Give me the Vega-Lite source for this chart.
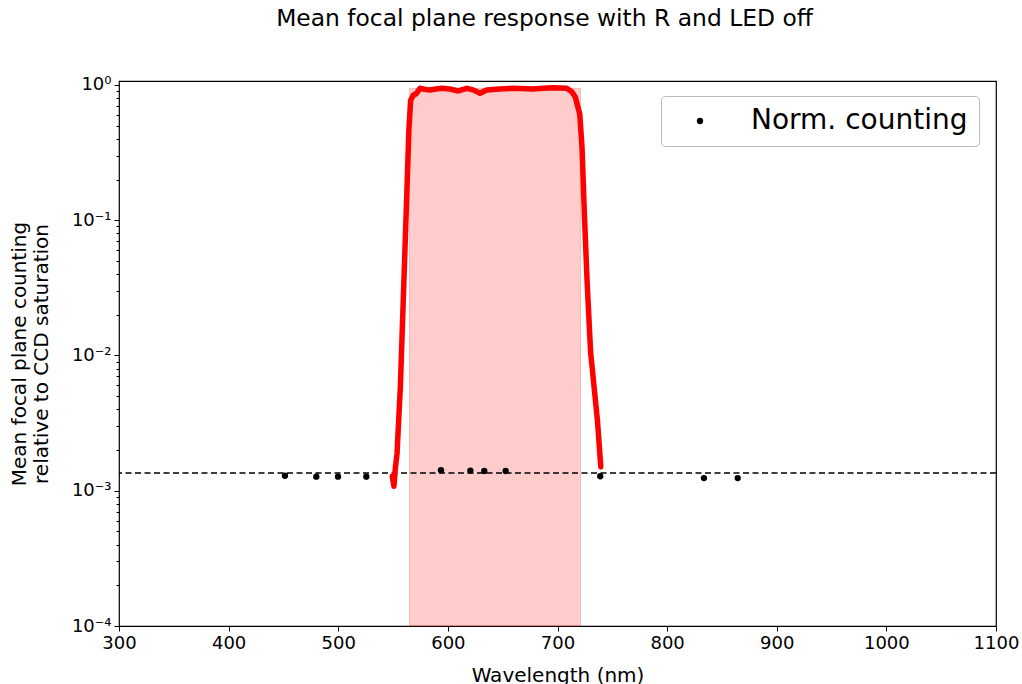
{
  "$schema": "https://vega.github.io/schema/vega-lite/v6.json",
  "width": 877,
  "height": 545,
  "autosize": {"type": "none"},
  "padding": {"left": 119, "top": 81, "right": 26, "bottom": 58},
  "background": "white",
  "config": {
    "font": "DejaVu Sans",
    "view": {"stroke": "black", "strokeWidth": 1.2},
    "axis": {
      "labelFont": "DejaVu Sans",
      "titleFont": "DejaVu Sans",
      "labelFontSize": 18,
      "titleFontSize": 20,
      "labelColor": "black",
      "titleColor": "black",
      "tickColor": "black",
      "titleFontWeight": "normal",
      "domain": false,
      "grid": false,
      "labelFlush": false
    }
  },
  "title": {
    "text": "Mean focal plane response with R and LED off",
    "font": "DejaVu Sans",
    "fontSize": 23.4,
    "fontWeight": "normal",
    "color": "black",
    "anchor": "middle",
    "dx": -13,
    "offset": 45
  },
  "datasets": {
    "band": [{"start": 565, "end": 721, "low": 0.0001, "high": 0.945}],
    "baseline": [{"level": 0.00135}],
    "response": [
      {"wavelength": 549.3, "value": 0.00128},
      {"wavelength": 550.8, "value": 0.00108},
      {"wavelength": 552.0, "value": 0.00145},
      {"wavelength": 553.6, "value": 0.00187},
      {"wavelength": 556.7, "value": 0.00595},
      {"wavelength": 559.8, "value": 0.0338},
      {"wavelength": 562.9, "value": 0.192},
      {"wavelength": 564.4, "value": 0.457},
      {"wavelength": 566.0, "value": 0.769},
      {"wavelength": 568.5, "value": 0.844},
      {"wavelength": 571.0, "value": 0.86},
      {"wavelength": 574.6, "value": 0.945},
      {"wavelength": 578.5, "value": 0.93},
      {"wavelength": 583.7, "value": 0.918},
      {"wavelength": 589.0, "value": 0.935},
      {"wavelength": 594.4, "value": 0.945},
      {"wavelength": 601.9, "value": 0.934},
      {"wavelength": 609.5, "value": 0.903},
      {"wavelength": 617.2, "value": 0.945},
      {"wavelength": 623.0, "value": 0.92},
      {"wavelength": 629.3, "value": 0.868},
      {"wavelength": 635.4, "value": 0.918},
      {"wavelength": 647.0, "value": 0.935},
      {"wavelength": 659.7, "value": 0.945},
      {"wavelength": 677.9, "value": 0.934},
      {"wavelength": 687.0, "value": 0.945},
      {"wavelength": 696.2, "value": 0.955},
      {"wavelength": 708.4, "value": 0.945},
      {"wavelength": 713.0, "value": 0.892},
      {"wavelength": 716.2, "value": 0.815},
      {"wavelength": 720.3, "value": 0.61},
      {"wavelength": 722.4, "value": 0.342},
      {"wavelength": 724.6, "value": 0.107},
      {"wavelength": 727.1, "value": 0.0338},
      {"wavelength": 730.2, "value": 0.0106},
      {"wavelength": 733.3, "value": 0.00595},
      {"wavelength": 736.4, "value": 0.00333},
      {"wavelength": 739.5, "value": 0.0015}
    ],
    "counting": [
      {"wavelength": 451.4, "value": 0.00129, "series": "Norm. counting"},
      {"wavelength": 480.0, "value": 0.00127, "series": "Norm. counting"},
      {"wavelength": 499.8, "value": 0.00127, "series": "Norm. counting"},
      {"wavelength": 525.6, "value": 0.00127, "series": "Norm. counting"},
      {"wavelength": 593.7, "value": 0.00142, "series": "Norm. counting"},
      {"wavelength": 620.5, "value": 0.00141, "series": "Norm. counting"},
      {"wavelength": 633.2, "value": 0.0014, "series": "Norm. counting"},
      {"wavelength": 652.7, "value": 0.0014, "series": "Norm. counting"},
      {"wavelength": 739.0, "value": 0.00128, "series": "Norm. counting"},
      {"wavelength": 833.6, "value": 0.00124, "series": "Norm. counting"},
      {"wavelength": 864.4, "value": 0.00124, "series": "Norm. counting"}
    ]
  },
  "resolve": {"scale": {"y": "shared", "x": "shared"}, "axis": {"y": "independent"}},
  "layer": [
    {
      "data": {"name": "band"},
      "mark": {"type": "rect", "fill": "red", "fillOpacity": 0.2, "stroke": "red", "strokeOpacity": 0.2, "strokeWidth": 1},
      "encoding": {
        "x": {
          "field": "start", "type": "quantitative",
          "scale": {"domain": [300, 1100], "nice": false, "zero": false},
          "title": "Wavelength (nm)",
          "axis": {"values": [300, 400, 500, 600, 700, 800, 900, 1000, 1100], "tickSize": 5, "labelPadding": 3, "titleY": 39, "titleBaseline": "top", "format": "d"}
        },
        "x2": {"field": "end"},
        "y": {
          "field": "low", "type": "quantitative",
          "scale": {"type": "log", "domain": [0.0001, 1.07], "nice": false},
          "axis": {
            "orient": "left",
            "title": null,
            "labels": false,
            "tickSize": 3,
            "values": [0.0002, 0.0003, 0.0004, 0.0005, 0.0006, 0.0007, 0.0008, 0.0009,
                       0.002, 0.003, 0.004, 0.005, 0.006, 0.007, 0.008, 0.009,
                       0.02, 0.03, 0.04, 0.05, 0.06, 0.07, 0.08, 0.09,
                       0.2, 0.3, 0.4, 0.5, 0.6, 0.7, 0.8, 0.9]
          }
        },
        "y2": {"field": "high"}
      }
    },
    {
      "data": {"name": "baseline"},
      "mark": {"type": "rule", "color": "black", "strokeWidth": 1.5, "strokeDash": [6, 3.5]},
      "encoding": {
        "y": {"field": "level", "type": "quantitative", "axis": null}
      }
    },
    {
      "data": {"name": "response"},
      "mark": {"type": "line", "color": "red", "strokeWidth": 5.5, "strokeJoin": "round", "strokeCap": "round"},
      "encoding": {
        "x": {"field": "wavelength", "type": "quantitative", "title": "Wavelength (nm)"},
        "y": {"field": "value", "type": "quantitative", "axis": null}
      }
    },
    {
      "data": {"name": "counting"},
      "mark": {"type": "point", "filled": true, "opacity": 1, "size": 40, "shape": "circle"},
      "encoding": {
        "x": {"field": "wavelength", "type": "quantitative", "title": "Wavelength (nm)"},
        "y": {
          "field": "value", "type": "quantitative",
          "axis": {
            "orient": "left",
            "title": ["Mean focal plane counting", "relative to CCD saturation"],
            "titleLineHeight": 22,
            "values": [0.0001, 0.001, 0.01, 0.1, 1],
            "labelExpr": "datum.value >= 1 ? '10⁰' : datum.value >= 0.1 ? '10⁻¹' : datum.value >= 0.01 ? '10⁻²' : datum.value >= 0.001 ? '10⁻³' : '10⁻⁴'",
            "tickSize": 5,
            "labelPadding": 3,
            "titleX": -90
          }
        },
        "color": {
          "field": "series", "type": "nominal",
          "scale": {"range": ["black"]},
          "legend": {
            "title": null,
            "orient": "none",
            "legendX": 542,
            "legendY": 15,
            "fillColor": "white",
            "strokeColor": "#bbbbbb",
            "cornerRadius": 4,
            "padding": 11,
            "labelFontSize": 28,
            "labelFont": "DejaVu Sans",
            "labelColor": "black",
            "labelLimit": 0,
            "symbolSize": 40,
            "symbolType": "circle",
            "symbolOffset": 14,
            "labelOffset": 37
          }
        }
      }
    }
  ]
}
